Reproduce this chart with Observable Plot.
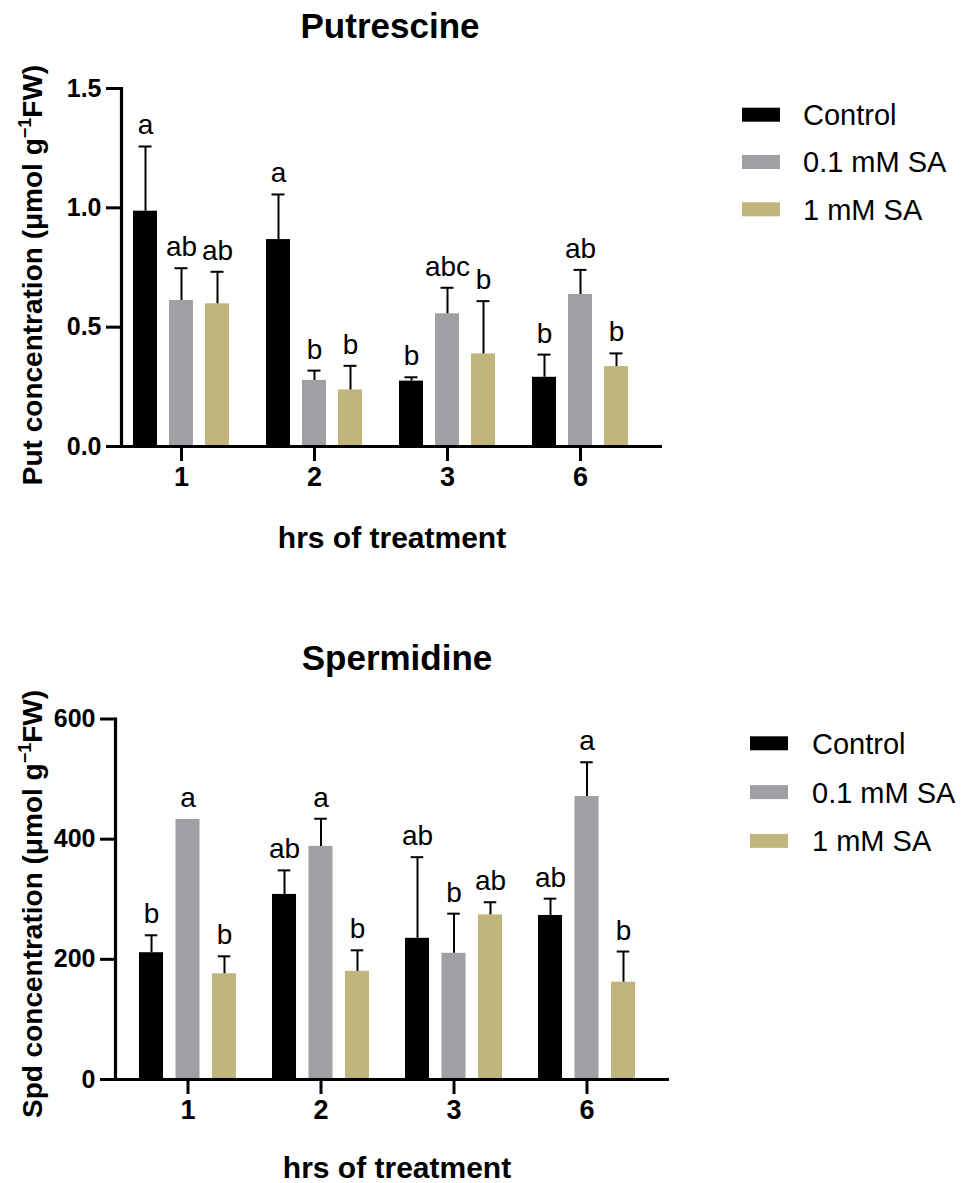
<!DOCTYPE html>
<html><head><meta charset="utf-8">
<script src="https://cdn.jsdelivr.net/npm/d3@7"></script>
<script src="https://cdn.jsdelivr.net/npm/@observablehq/plot@0.6"></script>
<style>
body{margin:0;background:#fff;}
#page{position:relative;width:970px;height:1183px;overflow:hidden;font-family:"Liberation Sans",Arial,sans-serif;}
#page svg{position:absolute;left:0;overflow:visible;}
</style></head><body><div id="page"></div>
<script>
// ---------- data ----------
const groups = ["1", "2", "3", "6"];
const series = ["Control", "0.1 mM SA", "1 mM SA"];
const colors = ["#000000", "#a09fa4", "#c0b67c"];

// Putrescine (µmol g-1 FW)
const putControl = [0.986, 0.867, 0.274, 0.290];
const putSA01    = [0.612, 0.277, 0.556, 0.637];
const putSA1     = [0.598, 0.237, 0.388, 0.335];
const putErrControl = [0.271, 0.189, 0.016, 0.095];
const putErrSA01    = [0.135, 0.041, 0.109, 0.103];
const putErrSA1     = [0.134, 0.101, 0.221, 0.055];
const putLetControl = ["a", "a", "b", "b"];
const putLetSA01    = ["ab", "b", "abc", "ab"];
const putLetSA1     = ["ab", "b", "b", "b"];
const putTicks = [0, 0.5, 1.0, 1.5];

// Spermidine
const spdControl = [211, 308, 235, 273];
const spdSA01    = [433, 388, 210, 471];
const spdSA1     = [176, 180, 274, 162];
const spdErrControl = [29, 40, 135, 28];
const spdErrSA01    = [0, 46, 66, 57];
const spdErrSA1     = [29, 35, 21, 51];
const spdLetControl = ["b", "ab", "ab", "ab"];
const spdLetSA01    = ["a", "a", "b", "a"];
const spdLetSA1     = ["b", "b", "ab", "b"];
const spdTicks = [0, 200, 400, 600];

// ---------- drawing ----------
const FONT = '"Liberation Sans", Arial, sans-serif';
const page = document.getElementById("page");

function panel(cfg) {
  const rows = [];
  series.forEach((s, si) => groups.forEach((g, gi) => rows.push({
    group: g, series: s, si,
    mean: cfg.means[si][gi], err: cfg.errs[si][gi], letter: cfg.letters[si][gi]
  })));
  const n = groups.length, pi = cfg.paddingInner;
  const step = (cfg.xRange[1] - cfg.xRange[0]) / (n - pi);
  const bw = step * (1 - pi);
  const cell = bw / 3;
  const pad = (cell - cfg.barWidth) / 2;
  const capHalf = 6.5;
  const marks = [];
  series.forEach((s, si) => {
    const d = rows.filter(r => r.si === si);
    const de = d.filter(r => r.err > 0);
    const center = cell * si + cell / 2;
    marks.push(Plot.barY(d, {x: "group", y: "mean", fill: colors[si],
      insetLeft: cell * si + pad, insetRight: cell * (2 - si) + pad}));
    marks.push(Plot.ruleX(de, {x: "group", y1: "mean", y2: r => r.mean + r.err,
      dx: center - bw / 2, stroke: "#000", strokeWidth: 2}));
    marks.push(Plot.tickY(de, {x: "group", y: r => r.mean + r.err, stroke: "#000", strokeWidth: 2,
      insetLeft: center - capHalf, insetRight: bw - center - capHalf}));
    marks.push(Plot.text(d, {x: "group", y: r => r.mean + r.err, dx: center - bw / 2, dy: -12,
      text: "letter", fontSize: 28, fontWeight: "normal", lineAnchor: "bottom", fill: "#000"}));
  });
  marks.push(Plot.axisY({ticks: cfg.ticks, tickFormat: cfg.fmt, tickSize: 15, tickPadding: 5,
    strokeWidth: 3, fontSize: 25, fontWeight: "bold", label: null}));
  marks.push(Plot.axisX({tickSize: 15, tickPadding: 5, strokeWidth: 3, fontSize: 27,
    fontWeight: "bold", label: null}));
  marks.push(Plot.frame({anchor: "left", strokeWidth: 3.2, stroke: "#000"}));
  marks.push(Plot.ruleY([0], {strokeWidth: 3.2, stroke: "#000"}));

  const svg = Plot.plot({
    width: 970, height: cfg.height,
    marginLeft: cfg.mL, marginRight: cfg.mR, marginTop: cfg.mT, marginBottom: cfg.mB,
    x: {type: "band", domain: groups, range: cfg.xRange, paddingInner: pi, paddingOuter: 0, align: 0.5},
    y: {domain: cfg.yDomain},
    style: {fontFamily: FONT, fontSize: "25px", fontWeight: "bold", color: "#000", background: "#fff"},
    marks
  });
  svg.style.top = cfg.top + "px";
  const s = d3.select(svg);
  // title
  s.append("text").attr("x", cfg.title[1]).attr("y", cfg.title[2]).attr("text-anchor", "middle")
    .attr("font-size", 35).attr("font-weight", "bold").attr("font-family", FONT).attr("fill", "#000")
    .text(cfg.title[0]);
  // x label
  s.append("text").attr("x", cfg.xlab[0]).attr("y", cfg.xlab[1]).attr("text-anchor", "middle")
    .attr("font-size", 30).attr("font-weight", "bold").attr("font-family", FONT).attr("fill", "#000")
    .text("hrs of treatment");
  // y label
  const yl = s.append("text").attr("transform", `translate(${cfg.ylab[1]},${cfg.ylab[2]}) rotate(-90)`)
    .attr("text-anchor", "middle").attr("font-size", 28).attr("font-weight", "bold")
    .attr("font-family", FONT).attr("fill", "#000");
  yl.append("tspan").text(cfg.ylab[0] + " concentration (\u03bcmol g");
  yl.append("tspan").attr("font-size", 18).attr("dy", -11).text("\u22121");
  yl.append("tspan").attr("dy", 11).text("FW)");
  // legend
  series.forEach((name, i) => {
    const cy = cfg.leg.y0 + i * cfg.leg.dy;
    s.append("rect").attr("x", cfg.leg.x).attr("y", cy - 7).attr("width", 38).attr("height", 14)
      .attr("fill", colors[i]);
    s.append("text").attr("x", cfg.leg.tx).attr("y", cy).attr("dy", "0.36em")
      .attr("text-anchor", "start")
      .attr("font-size", 29).attr("font-weight", "normal").attr("font-family", FONT).attr("fill", "#000")
      .text(name);
  });
  page.appendChild(svg);
}

panel({
  top: 0, height: 560, mL: 121, mR: 308, mT: 88, mB: 114,
  xRange: [126, 634], paddingInner: 0.19, barWidth: 24,
  yDomain: [0, 1.5], ticks: putTicks, fmt: d3.format(".1f"),
  means: [putControl, putSA01, putSA1], errs: [putErrControl, putErrSA01, putErrSA1],
  letters: [putLetControl, putLetSA01, putLetSA1],
  title: ["Putrescine", 390, 38], xlab: [392, 548], ylab: ["Put", 42, 275],
  leg: {x: 742, tx: 803, y0: 114.7, dy: 47.3}
});

panel({
  top: 600, height: 583, mL: 115, mR: 301, mT: 118.5, mB: 104,
  xRange: [132.5, 642], paddingInner: 0.179, barWidth: 24.5,
  yDomain: [0, 600], ticks: spdTicks, fmt: d3.format("d"),
  means: [spdControl, spdSA01, spdSA1], errs: [spdErrControl, spdErrSA01, spdErrSA1],
  letters: [spdLetControl, spdLetSA01, spdLetSA1],
  title: ["Spermidine", 397, 70], xlab: [397, 578], ylab: ["Spd", 42, 304],
  leg: {x: 750, tx: 812, y0: 143.3, dy: 48.8}
});
</script></body></html>
